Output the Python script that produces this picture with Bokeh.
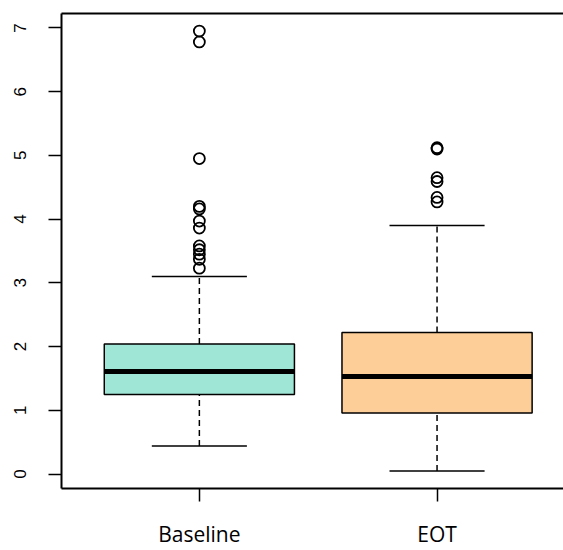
from bokeh.plotting import figure
from bokeh.models import ColumnDataSource, FixedTicker, LinearAxis, Range1d
from bokeh.embed import file_html
from bokeh.resources import INLINE

# ---- data ----
groups = ["Baseline", "EOT"]
positions = [1, 2]
q1 = [1.25, 0.96]
median = [1.61, 1.53]
q3 = [2.04, 2.22]
whisker_low = [0.44, 0.05]
whisker_high = [3.10, 3.90]
fill_colors = ["#A0E6D7", "#FDCE97"]

baseline_outliers = [6.95, 6.78, 4.95, 4.20, 4.16, 3.97, 3.86, 3.58, 3.52, 3.45, 3.37, 3.23]
eot_outliers = [5.12, 5.10, 4.65, 4.59, 4.34, 4.27]

y_ticks = [0, 1, 2, 3, 4, 5, 6, 7]

# ---- derived sources ----
box_w = 0.8
cap_w = 0.4
src = ColumnDataSource(dict(
    x=positions, q1=q1, med=median, q3=q3, lo=whisker_low, hi=whisker_high,
    color=fill_colors,
    xl=[v - box_w / 2 for v in positions], xr=[v + box_w / 2 for v in positions],
    cl=[v - cap_w / 2 for v in positions], cr=[v + cap_w / 2 for v in positions],
))
out_x = [positions[0]] * len(baseline_outliers) + [positions[1]] * len(eot_outliers)
out_y = baseline_outliers + eot_outliers
out_src = ColumnDataSource(dict(x=out_x, y=out_y))

p = figure(width=563, height=550, output_backend="svg", toolbar_location=None,
           x_range=Range1d(0.42, 2.532), y_range=Range1d(-0.226, 7.226),
           min_border_left=61, min_border_right=0, min_border_top=13, min_border_bottom=61,
           background_fill_color="white", border_fill_color="white")
p.outline_line_color = None
p.grid.visible = False

# whiskers (dashed)
p.segment(x0="x", x1="x", y0="q3", y1="hi", source=src, line_color="black",
          line_width=1.5, line_dash="6 4")
p.segment(x0="x", x1="x", y0="lo", y1="q1", source=src, line_color="black",
          line_width=1.5, line_dash="6 4")
# caps
p.segment(x0="cl", x1="cr", y0="hi", y1="hi", source=src, line_color="black", line_width=1.5)
p.segment(x0="cl", x1="cr", y0="lo", y1="lo", source=src, line_color="black", line_width=1.5)
# boxes
p.vbar(x="x", width=box_w, top="q3", bottom="q1", source=src, fill_color="color",
       line_color="black", line_width=1.5)
# medians
p.segment(x0="xl", x1="xr", y0="med", y1="med", source=src, line_color="black", line_width=5)
# outliers
p.scatter(x="x", y="y", source=out_src, marker="circle", size=11, fill_color=None,
          line_color="black", line_width=1.8)

# y axis
ya = p.yaxis[0]
ya.ticker = FixedTicker(ticks=y_ticks)
ya.major_label_orientation = "vertical"
ya.major_tick_out = 13
ya.major_tick_in = 0
ya.minor_tick_line_color = None
ya.major_label_standoff = 22
ya.major_label_text_font = "Liberation Sans"
ya.major_label_text_font_size = "17px"
ya.major_label_text_color = "black"
ya.axis_line_width = 2
ya.major_tick_line_width = 1.5

# x axis
xa = p.xaxis[0]
xa.ticker = FixedTicker(ticks=positions)
xa.major_label_overrides = {pos: g for pos, g in zip(positions, groups)}
xa.major_tick_out = 13
xa.major_tick_in = 0
xa.minor_tick_line_color = None
xa.major_label_standoff = 18
xa.major_label_text_font = "Open Sans"
xa.major_label_text_font_size = "21px"
xa.major_label_text_color = "black"
xa.axis_line_width = 2
xa.major_tick_line_width = 1.5

# top border as an unlabeled axis
top = LinearAxis(ticker=FixedTicker(ticks=[]), major_tick_out=0, major_tick_in=0,
                 minor_tick_out=0, minor_tick_in=0, major_label_text_font_size="0px",
                 axis_line_width=2, major_label_standoff=0)
p.add_layout(top, "above")

open("out.html", "w").write(file_html(p, INLINE))
